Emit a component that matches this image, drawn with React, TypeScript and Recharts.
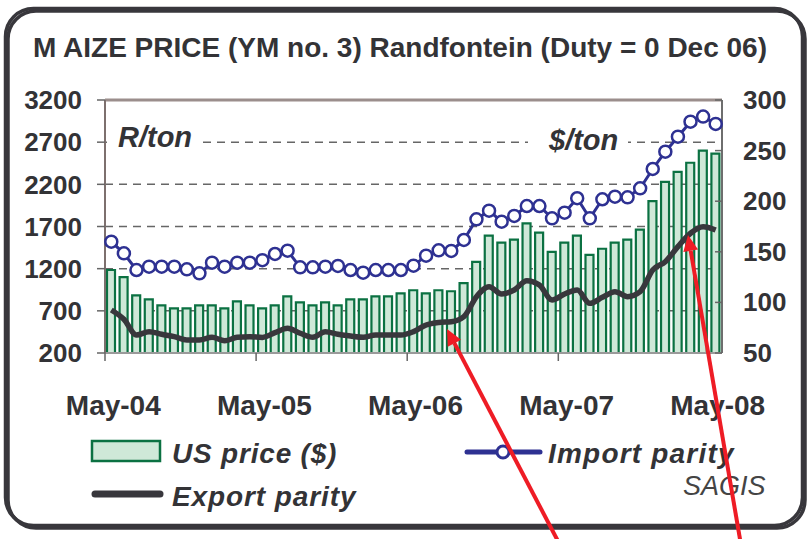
import React from 'react';
import { ComposedChart, Bar, Line, XAxis, YAxis, CartesianGrid, ReferenceLine } from 'recharts';

const months = [
  'May-04', 'Jun-04', 'Jul-04', 'Aug-04', 'Sep-04', 'Oct-04', 'Nov-04', 'Dec-04', 'Jan-05', 'Feb-05', 'Mar-05', 'Apr-05',
  'May-05', 'Jun-05', 'Jul-05', 'Aug-05', 'Sep-05', 'Oct-05', 'Nov-05', 'Dec-05', 'Jan-06', 'Feb-06', 'Mar-06', 'Apr-06',
  'May-06', 'Jun-06', 'Jul-06', 'Aug-06', 'Sep-06', 'Oct-06', 'Nov-06', 'Dec-06', 'Jan-07', 'Feb-07', 'Mar-07', 'Apr-07',
  'May-07', 'Jun-07', 'Jul-07', 'Aug-07', 'Sep-07', 'Oct-07', 'Nov-07', 'Dec-07', 'Jan-08', 'Feb-08', 'Mar-08', 'Apr-08',
  'May-08',
];

// US price ($/ton), right axis
const usPrice = [
  132, 125, 107, 103, 97, 94, 94, 97, 97, 94, 101, 97,
  94, 97, 106, 100, 97, 100, 97, 103, 103, 106, 106, 109,
  112, 109, 112, 111, 119, 140, 166, 159, 162, 178, 169, 150,
  159, 166, 147, 153, 159, 162, 172, 200, 219, 229, 238, 250,
  247,
];

// Import parity (R/ton), left axis
const importParity = [
  1520, 1382, 1184, 1223, 1223, 1223, 1192, 1145, 1271, 1223, 1271, 1271,
  1300, 1374, 1413, 1216, 1216, 1223, 1232, 1184, 1152, 1184, 1184, 1184,
  1236, 1354, 1417, 1410, 1540, 1785, 1888, 1757, 1825, 1943, 1943, 1797,
  1864, 2035, 1797, 2023, 2054, 2046, 2153, 2382, 2587, 2765, 2943, 3003,
  2916,
];

// Export parity (R/ton), left axis
const exportParity = [
  710, 600, 413, 453, 422, 394, 354, 354, 386, 346, 386, 394,
  385, 441, 493, 434, 386, 453, 422, 402, 386, 413, 413, 413,
  453, 532, 562, 571, 631, 868, 986, 900, 947, 1058, 1006, 829,
  900, 947, 789, 860, 927, 868, 927, 1184, 1283, 1461, 1620, 1698,
  1659,
];

const leftTicks = [200, 700, 1200, 1700, 2200, 2700, 3200];
const rightTicks = [50, 100, 150, 200, 250, 300];
const xLabels = ['May-04', 'May-05', 'May-06', 'May-07', 'May-08'];

const data = months.map((m, i) => ({ month: m, us: usPrice[i], imp: importParity[i], exp: exportParity[i] }));

const TXT = '#333336';
const FONT = "'Liberation Sans', Arial, sans-serif";
const NARROW = "'Liberation Sans Narrow', 'Liberation Sans', Arial, sans-serif";
const GREEN_FILL = '#cfe8d8';
const GREEN = '#0b7142';
const BLUE = '#2e3192';
const DARK = '#38373c';
const RED = '#ee1c25';

const XTick = (props: any) => {
  const { x, y, payload } = props;
  const off = payload && payload.offset != null ? payload.offset : 6.3;
  return (
    <g>
      <line x1={x - off} x2={x - off} y1={y - 8} y2={y} stroke="#666" strokeWidth={1.5} />
      <text x={x + 2} y={y + 54} textAnchor="middle" fontSize={28} fontWeight="bold" fontFamily={FONT} fill={TXT}>
        {payload.value}
      </text>
    </g>
  );
};

const RTick = (props: any) => {
  const { x, y, payload } = props;
  return (
    <g>
      <line x1={x - 7} x2={x} y1={y} y2={y} stroke="#666" strokeWidth={1.5} />
      <text x={x + 21} y={y} dy={9} textAnchor="start" fontSize={26} fontWeight="bold" fontFamily={FONT} fill={TXT}>
        {payload.value}
      </text>
    </g>
  );
};

function arrowHead(x1: number, y1: number, x2: number, y2: number, len = 16, half = 7.5) {
  const dx = x2 - x1, dy = y2 - y1;
  const L = Math.hypot(dx, dy);
  const ux = dx / L, uy = dy / L;
  const bx = x2 - ux * len, by = y2 - uy * len;
  return {
    pts: `${x2},${y2} ${bx - uy * half},${by + ux * half} ${bx + uy * half},${by - ux * half}`,
    bx, by,
  };
}

const Arrow = ({ x1, y1, x2, y2 }: any) => {
  const h = arrowHead(x1, y1, x2, y2);
  return (
    <g>
      <line x1={x1} y1={y1} x2={h.bx} y2={h.by} stroke={RED} strokeWidth={4} />
      <polygon points={h.pts} fill={RED} />
    </g>
  );
};

export default function App() {
  return (
    <div style={{ position: 'absolute', left: 0, top: 0, width: 809, height: 539, background: '#fff', overflow: 'hidden' }}>
      <div style={{ position: 'absolute', left: 0, top: 0 }}>
        <ComposedChart width={809} height={539} data={data} margin={{ top: 100, right: 0, bottom: 126, left: 0 }}>
          <CartesianGrid yAxisId="left" vertical={false} horizontalValues={[700, 1200, 1700, 2200, 2700]} stroke="#666" strokeDasharray="8 6" strokeWidth={1.5} />
          <XAxis dataKey="month" ticks={xLabels} interval={0} height={60} tickLine={false} tickSize={8} tickMargin={0} tick={<XTick />} axisLine={{ stroke: '#9a9a9a', strokeWidth: 2 }} />
          <YAxis yAxisId="left" orientation="left" width={105} domain={[200, 3200]} ticks={leftTicks} type="number" allowDataOverflow
            tickSize={8} tickMargin={15} tickLine={{ stroke: '#666', strokeWidth: 1.5 }} axisLine={{ stroke: '#7d706e', strokeWidth: 2 }}
            tick={{ fontSize: 26, fontWeight: 'bold', fill: TXT, fontFamily: FONT }} />
          <YAxis yAxisId="right" orientation="right" width={87} domain={[50, 300]} ticks={rightTicks} type="number" allowDataOverflow
            tickSize={0} tickMargin={0} tickLine={false} axisLine={{ stroke: '#6e6e6e', strokeWidth: 2 }} tick={<RTick />} />
          <ReferenceLine yAxisId="left" y={3200} stroke="#9b8e8c" strokeWidth={3} />
          <Bar yAxisId="right" dataKey="us" fill={GREEN_FILL} stroke={GREEN} strokeWidth={2.2} barSize={8} isAnimationActive={false} />
          <Line yAxisId="left" dataKey="exp" type="monotone" stroke={DARK} strokeWidth={5.5} dot={false} isAnimationActive={false} />
          <Line yAxisId="left" dataKey="imp" type="linear" stroke={BLUE} strokeWidth={3}
            dot={{ r: 6, fill: '#fff', stroke: BLUE, strokeWidth: 2.5 }} isAnimationActive={false} />
        </ComposedChart>
      </div>
      <svg width={809} height={539} style={{ position: 'absolute', left: 0, top: 0, pointerEvents: 'none' }}>
        <rect x={8} y={11} width={797} height={517} rx={28} fill="none" stroke={DARK} strokeWidth={3.5} />
        <rect x={5.5} y={8.5} width={797} height={517} rx={28} fill="none" stroke={DARK} strokeWidth={3.5} />
        <text x={400} y={57} textAnchor="middle" fontSize={28} fontWeight="bold" fontFamily={NARROW} fill={TXT}>
          M AIZE PRICE (YM  no. 3) Randfontein (Duty = 0 Dec 06)
        </text>
        <rect x={107} y={116} width={94} height={40} fill="#fff" />
        <text x={118} y={147} fontSize={29} fontWeight="bold" fontStyle="italic" fontFamily={FONT} fill={TXT}>R/ton</text>
        <rect x={528} y={116} width={100} height={40} fill="#fff" />
        <text x={549} y={150} fontSize={29} fontWeight="bold" fontStyle="italic" fontFamily={FONT} fill={TXT}>$/ton</text>

        <rect x={92} y={441} width={68} height={20} fill={GREEN_FILL} stroke={GREEN} strokeWidth={2.5} />
        <text x={172} y={463} fontSize={28} fontWeight="bold" fontStyle="italic" fontFamily={FONT} fill={TXT} letterSpacing={0.8}>US price ($)</text>
        <line x1={467} x2={540} y1={452} y2={452} stroke={BLUE} strokeWidth={5} strokeLinecap="round" />
        <circle cx={503} cy={452} r={6} fill="#fff" stroke={BLUE} strokeWidth={3} />
        <text x={548} y={463} fontSize={28} fontWeight="bold" fontStyle="italic" fontFamily={FONT} fill={TXT} letterSpacing={1.2}>Import parity</text>
        <line x1={95} x2={160} y1={494} y2={494} stroke={DARK} strokeWidth={7} strokeLinecap="round" />
        <text x={172} y={506} fontSize={28} fontWeight="bold" fontStyle="italic" fontFamily={FONT} fill={TXT} letterSpacing={0.9}>Export parity</text>
        <text x={683} y={495} fontSize={27} fontStyle="italic" fontFamily={NARROW} fill="#444">SAGIS</text>

        <Arrow x1={560} y1={545} x2={447} y2={329} />
        <Arrow x1={741} y1={545} x2={688} y2={235} />
      </svg>
    </div>
  );
}
